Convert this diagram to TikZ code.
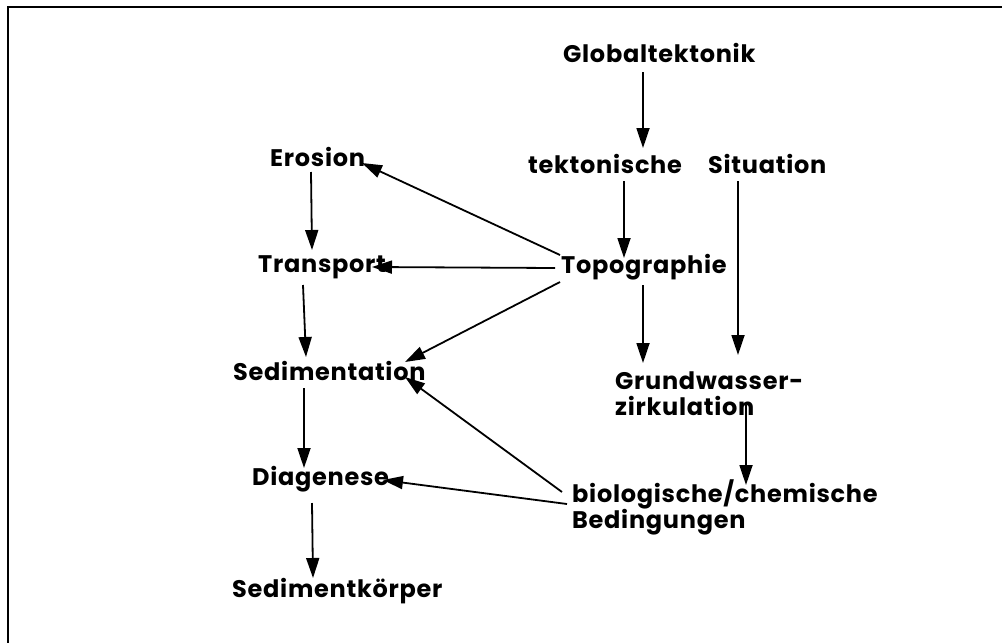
\documentclass[tikz,border=0pt]{standalone}
\usepackage{fontspec}
\setmainfont{Poppins}[LetterSpace=3]
\usetikzlibrary{arrows.meta}
\tikzset{
  lbl/.style={anchor=base west, inner sep=0pt, align=left,
    font=\fontsize{24}{26}\selectfont\bfseries},
  arr/.style={-{Triangle[length=20pt,width=13pt]}, line width=1.8pt},
}
\begin{document}
\begin{tikzpicture}[x=1pt,y=-1pt]
  \useasboundingbox (0,0) rectangle (1002,643);
  \draw[line width=1.3pt] (1002,7) -- (8,7) -- (8,643);
  % right column
  \node[lbl] (glob) at (563,62) {Globaltektonik};
  \node[lbl] (tekt) at (528,173) {tektonische};
  \node[lbl] (sit) at (708,173) {Situation};
  \node[lbl] (topo) at (561,273) {Topographie};
  \node[lbl] (grund) at (615,415) {Grundwasser-\\zirkulation};
  \node[lbl] (bio) at (572,528) {biologische/chemische\\Bedingungen};
  % left column
  \node[lbl] (eros) at (270,166) {Erosion};
  \node[lbl] (trans) at (258,272) {Transport};
  \node[lbl] (sedi) at (233,380) {Sedimentation};
  \node[lbl] (diag) at (252,485) {Diagenese};
  \node[lbl] (skorp) at (232,597) {Sedimentk\"orper};
  % arrows
  \draw[arr] ([shift={(80,10)}]glob.base west) -- ([shift={(115,-25)}]tekt.base west);
  \draw[arr] ([shift={(96,8)}]tekt.base west) -- ([shift={(63,-15)}]topo.base west);
  \draw[arr] ([shift={(30,8)}]sit.base west) -- ([shift={(123,-60)}]grund.base west);
  \draw[arr] ([shift={(82,12)}]topo.base west) -- ([shift={(28,-52)}]grund.base west);
  \draw[arr] ([shift={(131,-10)}]grund.base west) -- ([shift={(174,-43)}]bio.base west);
  \draw[arr] ([shift={(41,6)}]eros.base west) -- ([shift={(54,-22)}]trans.base west);
  \draw[arr] ([shift={(45,13)}]trans.base west) -- ([shift={(73,-23)}]sedi.base west);
  \draw[arr] ([shift={(71,8)}]sedi.base west) -- ([shift={(52,-17)}]diag.base west);
  \draw[arr] ([shift={(60,18)}]diag.base west) -- ([shift={(81,-19)}]skorp.base west);
  \draw[arr] ([shift={(-1,-18)}]topo.base west) -- ([shift={(92,-3)}]eros.base west);
  \draw[arr] ([shift={(-6,-5)}]topo.base west) -- ([shift={(114,-5)}]trans.base west);
  \draw[arr] ([shift={(-1,9)}]topo.base west) -- ([shift={(172,-18)}]sedi.base west);
  \draw[arr] ([shift={(-10,-36)}]bio.base west) -- ([shift={(172,-3)}]sedi.base west);
  \draw[arr] ([shift={(-5,-24)}]bio.base west) -- ([shift={(131,-5)}]diag.base west);
\end{tikzpicture}
\end{document}
